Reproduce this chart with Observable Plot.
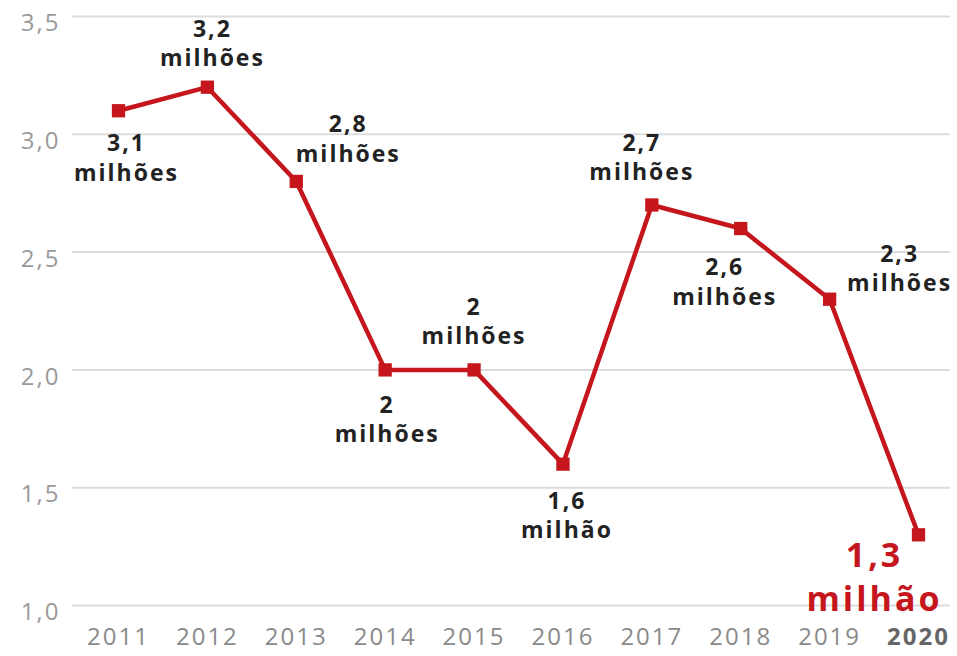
<!DOCTYPE html>
<html>
<head>
<meta charset="utf-8">
<script src="https://cdn.jsdelivr.net/npm/d3@7"></script>
<script src="https://cdn.jsdelivr.net/npm/@observablehq/plot@0.6"></script>
<style>
  html, body { margin: 0; padding: 0; background: #fff; }
  #chart svg { display: block; }
  #chart svg text { letter-spacing: 2px; }
  #chart svg g.big text { letter-spacing: 3px; }
</style>
</head>
<body>
<div id="chart"></div>
<script>
const years = [2011, 2012, 2013, 2014, 2015, 2016, 2017, 2018, 2019, 2020];
const values = [3.1, 3.2, 2.8, 2.0, 2.0, 1.6, 2.7, 2.6, 2.3, 1.3];
const labels = [
  "3,1\nmilhões", "3,2\nmilhões", "2,8\nmilhões", "2\nmilhões", "2\nmilhões",
  "1,6\nmilhão", "2,7\nmilhões", "2,6\nmilhões", "2,3\nmilhões", "1,3\nmilhão"
];
const yTicks = [1.0, 1.5, 2.0, 2.5, 3.0, 3.5];
const yTickLabels = ["1,0", "1,5", "2,0", "2,5", "3,0", "3,5"];

const data = years.map((year, i) => ({year, value: values[i], label: labels[i]}));

// label placement offsets (dx, dy of the label's middle) per year
const offsets = {
  2011: [8, 46], 2012: [5, -45], 2013: [52, -44], 2014: [2, 48], 2015: [0, -50],
  2016: [4, 50], 2017: [-10, -49], 2018: [-16, 52], 2019: [70, -32]
};

const red = "#c4161c";
const font = "'Open Sans', 'Noto Sans', sans-serif";

const labelMarks = data.filter(d => d.year !== 2020).map(d =>
  Plot.text([d], {
    x: "year", y: "value", text: "label",
    dx: offsets[d.year][0], dy: offsets[d.year][1],
    fill: "#222", fontSize: 23, fontWeight: "bold", lineHeight: 1.28,
    fontFamily: font
  })
);

const chart = Plot.plot({
  width: 957,
  height: 656,
  marginLeft: 72,
  marginRight: 7,
  marginTop: 16,
  marginBottom: 51,
  style: {fontFamily: font, background: "#fff"},
  x: {type: "linear", domain: [2011, 2020], range: [118, 918], axis: null},
  y: {domain: [1, 3.5], axis: null},
  marks: [
    Plot.ruleY(yTicks, {stroke: "#dcdcdc", strokeWidth: 2}),
    Plot.text(yTicks, {
      y: d => d, text: (d, i) => yTickLabels[i],
      frameAnchor: "left", textAnchor: "end", dx: -12, dy: 7,
      fill: "#9a9a9a", fontSize: 24, fontFamily: font
    }),
    Plot.text(data.filter(d => d.year !== 2020), {
      x: "year", text: d => String(d.year), frameAnchor: "bottom", dy: 39,
      fill: "#8a8a8a", fontSize: 24, fontFamily: font
    }),
    Plot.text(data.filter(d => d.year === 2020), {
      x: "year", text: d => String(d.year), frameAnchor: "bottom", dy: 39,
      fill: "#666", fontSize: 24, fontWeight: "bold", fontFamily: font
    }),
    Plot.line(data, {x: "year", y: "value", stroke: red, strokeWidth: 4.5, strokeLinejoin: "round"}),
    Plot.dot(data, {x: "year", y: "value", symbol: "square", r: 7.5, fill: red}),
    ...labelMarks,
    Plot.text(data.filter(d => d.year === 2020), {
      x: "year", y: "value", text: "label", dx: -44, dy: 40, className: "big",
      fill: red, fontSize: 34, fontWeight: "bold", lineHeight: 1.3, fontFamily: font
    })
  ]
});
document.getElementById("chart").appendChild(chart);
</script>
</body>
</html>
